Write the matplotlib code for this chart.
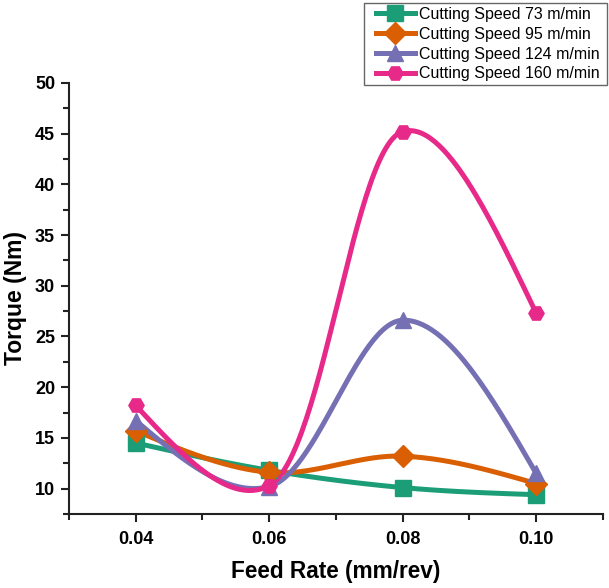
import numpy as np
import matplotlib
matplotlib.use("Agg")
import matplotlib.pyplot as plt
from matplotlib.ticker import MultipleLocator
from matplotlib.patches import Rectangle

feed = [0.04, 0.06, 0.08, 0.10]
labels = ["Cutting Speed 73 m/min", "Cutting Speed 95 m/min",
          "Cutting Speed 124 m/min", "Cutting Speed 160 m/min"]
torque_73 = [14.5, 11.8, 10.1, 9.4]
torque_95 = [15.7, 11.6, 13.2, 10.5]
torque_124 = [16.7, 10.2, 26.6, 11.5]
torque_160 = [18.2, 10.3, 45.2, 27.3]
series = [torque_73, torque_95, torque_124, torque_160]
colors = ["#1b9e77", "#d95f02", "#7570b3", "#e7298a"]
markers = ["s", "D", "^", "H"]


def screen_spline(ax, x, y, alpha=0.35, npts=60):
    """Parametric cubic Hermite (Catmull-Rom type) spline through the points,
    computed in display space and mapped back to data coordinates."""
    P = ax.transData.transform(np.column_stack([x, y]))
    n = len(P)
    d = np.linalg.norm(np.diff(P, axis=0), axis=1) ** alpha
    T = np.zeros_like(P)
    for i in range(1, n - 1):
        a = (P[i] - P[i - 1]) / d[i - 1]
        b = (P[i + 1] - P[i]) / d[i]
        T[i] = (a * d[i] + b * d[i - 1]) / (d[i - 1] + d[i])
    T[0] = (3 * (P[1] - P[0]) / d[0] - T[1]) / 2
    T[-1] = (3 * (P[-1] - P[-2]) / d[-1] - T[-2]) / 2
    pts = []
    for i in range(n - 1):
        s = np.linspace(0, 1, npts)[:, None]
        h00 = 2 * s**3 - 3 * s**2 + 1
        h10 = s**3 - 2 * s**2 + s
        h01 = -2 * s**3 + 3 * s**2
        h11 = s**3 - s**2
        seg = h00 * P[i] + h10 * d[i] * T[i] + h01 * P[i + 1] + h11 * d[i] * T[i + 1]
        pts.append(seg if i == 0 else seg[1:])
    pts = np.vstack(pts)
    dat = ax.transData.inverted().transform(pts)
    return dat[:, 0], dat[:, 1]


plt.rcParams['font.family'] = ['Liberation Sans', 'DejaVu Sans']
fig = plt.figure(figsize=(6.09, 5.88), dpi=100)
ax = fig.add_axes([0.1133, 0.1259, 0.8767, 0.7331])
ax.set_xlim(0.03, 0.11)
ax.set_ylim(7.5, 50)

for vals, col, mk, lab in zip(series, colors, markers, labels):
    cx, cy = screen_spline(ax, feed, vals)
    ax.plot(cx, cy, color=col, lw=3.6, zorder=2, solid_capstyle='round')
    ax.plot(feed, vals, linestyle="none", marker=mk, ms=11, color=col, zorder=3)
    ax.plot([], [], color=col, lw=3.6, marker=mk, ms=11, label=lab)

ax.xaxis.set_minor_locator(MultipleLocator(0.01))
ax.yaxis.set_minor_locator(MultipleLocator(2.5))
ax.set_yticks([10, 15, 20, 25, 30, 35, 40, 45, 50])
ax.set_xticks(feed)
ax.set_xticklabels(["0.04", "0.06", "0.08", "0.10"], fontsize=13,
                   fontweight='bold')
ax.spines['top'].set_visible(False)
ax.spines['right'].set_visible(False)
for s in ['left', 'bottom']:
    ax.spines[s].set_linewidth(1.5)
    ax.spines[s].set_color('#222222')
ax.tick_params(which='major', direction='out', length=6, width=1.5,
               color='#222222')
ax.tick_params(which='minor', direction='out', length=4, width=1.5,
               color='#222222')
ax.tick_params(axis='x', which='major', pad=6)
ax.tick_params(axis='y', which='major', labelsize=13, pad=4)
for t in ax.get_yticklabels():
    t.set_fontweight('bold')
ax.set_xlabel("Feed Rate (mm/rev)", fontsize=16.3, fontweight='bold', labelpad=9)
ax.set_ylabel("Torque (Nm)", fontsize=16.5, fontweight='bold', labelpad=6)

leg = fig.legend(loc='upper right', bbox_to_anchor=(0.9918, 0.995), fontsize=11.5,
                 frameon=False, handlelength=2.4, handletextpad=0.3,
                 borderpad=0.25, labelspacing=0.3, markerscale=1.0,
                 borderaxespad=0.0)
fig.canvas.draw()
bb = leg.get_window_extent()
inv = fig.transFigure.inverted()
x0, y0 = inv.transform((bb.x0 - 8, bb.y0))
x1, y1 = inv.transform((bb.x1 + 3, bb.y1))
fig.patches.append(Rectangle((x0, y0), x1 - x0, y1 - y0, transform=fig.transFigure,
                             fill=False, edgecolor='#666666', lw=1.0, zorder=5))

fig.savefig("out.png", dpi=100)
